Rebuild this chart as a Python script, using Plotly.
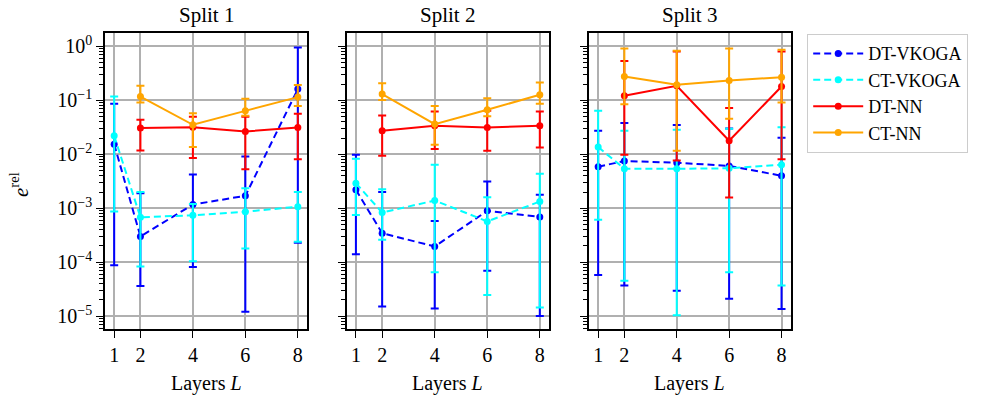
import plotly.graph_objects as go

# Number of layers evaluated
layers = [1, 2, 4, 6, 8]
layers_nn = [2, 4, 6, 8]
split_titles = ["Split 1", "Split 2", "Split 3"]

# Relative errors (median) with lower / upper spread, one row per split
dt_vkoga_val = [[0.0154, 3.0e-4, 1.17e-3, 1.7e-3, 0.162],
                [2.19e-3, 3.45e-4, 1.95e-4, 8.95e-4, 6.9e-4],
                [5.9e-3, 7.5e-3, 7.0e-3, 6.1e-3, 4.0e-3]]
dt_vkoga_lo = [[8.8e-5, 3.6e-5, 8.1e-5, 1.2e-5, 2.3e-4],
               [1.4e-4, 1.5e-5, 1.38e-5, 6.9e-5, 1.0e-5],
               [5.8e-5, 3.7e-5, 2.95e-5, 2.1e-5, 1.35e-5]]
dt_vkoga_hi = [[0.0865, 1.9e-3, 4.2e-3, 9.1e-3, 0.96],
               [9.8e-3, 2.0e-3, 5.8e-4, 3.13e-3, 1.78e-3],
               [0.0273, 0.038, 0.035, 0.030, 0.0202]]

ct_vkoga_val = [[0.022, 6.8e-4, 7.4e-4, 8.6e-4, 1.07e-3],
                [2.92e-3, 8.3e-4, 1.39e-3, 5.7e-4, 1.33e-3],
                [0.0136, 5.4e-3, 5.4e-3, 5.5e-3, 6.4e-3]]
ct_vkoga_lo = [[8.7e-4, 8.3e-5, 1.04e-4, 1.8e-4, 2.4e-4],
               [7.5e-4, 2.6e-4, 6.5e-5, 2.47e-5, 1.44e-5],
               [6.1e-4, 4.5e-5, 1.04e-5, 6.5e-5, 3.7e-5]]
ct_vkoga_hi = [[0.118, 2.0e-3, 1.2e-3, 2.35e-3, 2.0e-3],
               [8.3e-3, 2.26e-3, 6.4e-3, 1.6e-3, 4.35e-3],
               [0.064, 0.0273, 0.0285, 0.0297, 0.0319]]

dt_nn_val = [[0.0306, 0.0319, 0.0265, 0.0315],
             [0.0273, 0.0338, 0.0315, 0.0338],
             [0.122, 0.187, 0.0178, 0.181]]
dt_nn_lo = [[0.0118, 0.0085, 5.3e-3, 8.1e-3],
            [0.0094, 0.0126, 0.0116, 0.0134],
            [9.8e-3, 7.7e-3, 1.58e-3, 8.1e-3]]
dt_nn_hi = [[0.0437, 0.05, 0.05, 0.0564],
            [0.0525, 0.062, 0.064, 0.062],
            [0.54, 0.81, 0.072, 0.81]]

ct_nn_val = [[0.118, 0.0353, 0.064, 0.115],
             [0.131, 0.0363, 0.067, 0.127],
             [0.277, 0.195, 0.234, 0.27]]
ct_nn_lo = [[0.0914, 0.0136, 0.0518, 0.079],
            [0.102, 0.015, 0.051, 0.0865],
            [0.085, 0.0116, 0.0456, 0.0914]]
ct_nn_hi = [[0.187, 0.058, 0.107, 0.192],
            [0.209, 0.079, 0.110, 0.215],
            [0.92, 0.83, 0.92, 0.87]]

y_tick_vals = [1e-5, 1e-4, 1e-3, 1e-2, 1e-1, 1e0]
y_tick_text = ["10<sup>\u22125</sup>", "10<sup>\u22124</sup>", "10<sup>\u22123</sup>",
               "10<sup>\u22122</sup>", "10<sup>\u22121</sup>", "10<sup>0</sup>"]

series = [
    ("DT-VKOGA", "#0000ff", "7px,4px", layers, dt_vkoga_val, dt_vkoga_lo, dt_vkoga_hi),
    ("CT-VKOGA", "#00ffff", "7px,4px", layers, ct_vkoga_val, ct_vkoga_lo, ct_vkoga_hi),
    ("DT-NN", "#ff0000", "solid", layers_nn, dt_nn_val, dt_nn_lo, dt_nn_hi),
    ("CT-NN", "#ffa500", "solid", layers_nn, ct_nn_val, ct_nn_lo, ct_nn_hi),
]

FONT = "Liberation Serif, Times New Roman, serif"
W, H = 990, 402
x_domains = [(105 / W, 307 / W), (346.7 / W, 549 / W), (589 / W, 790.7 / W)]
y_domain = ((H - 329) / H, (H - 33) / H)

fig = go.Figure()

for s in range(3):
    ax = "" if s == 0 else str(s + 1)
    for name, color, dash, xs, val, lo, hi in series:
        v = val[s]
        fig.add_trace(go.Scatter(
            x=xs, y=v, name=name, legendgroup=name, showlegend=(s == 0),
            mode="lines+markers",
            line=dict(color=color, width=2, dash=dash),
            marker=dict(color=color, size=7),
            error_y=dict(type="data", symmetric=False,
                         array=[h - y for h, y in zip(hi[s], v)],
                         arrayminus=[y - l for l, y in zip(lo[s], v)],
                         color=color, thickness=2, width=4),
            xaxis="x" + ax, yaxis="y" + ax,
        ))

minor_vals = [m * 10 ** e for e in range(-6, 1) for m in range(2, 10)]

layout = dict(
    width=W, height=H, margin=dict(l=0, r=0, t=0, b=0),
    paper_bgcolor="white", plot_bgcolor="white",
    font=dict(family=FONT, size=18, color="black"),
    showlegend=True,
    legend=dict(x=807 / W, y=(H - 34) / H, xanchor="left", yanchor="top",
                bgcolor="white", bordercolor="#cccccc", borderwidth=1.2,
                font=dict(family=FONT, size=18), tracegroupgap=0,
                itemwidth=50),
)

annotations = []
for s in range(3):
    key = "" if s == 0 else str(s + 1)
    layout["xaxis" + key] = dict(
        domain=list(x_domains[s]), range=[0.65, 8.35], anchor="y" + key,
        tickmode="array", tickvals=layers, ticktext=[str(v) for v in layers],
        ticks="outside", ticklen=7, tickwidth=1.3, tickcolor="black",
        showline=True, mirror=True, linecolor="black", linewidth=1.6,
        showgrid=True, gridcolor="#b0b0b0", gridwidth=1.5, zeroline=False,
        tickfont=dict(family=FONT, size=20),
    )
    layout["yaxis" + key] = dict(
        domain=list(y_domain), type="log", range=[-5.24, 0.25], anchor="x" + key,
        tickmode="array", tickvals=y_tick_vals, ticktext=y_tick_text,
        showticklabels=(s == 0),
        ticks="outside", ticklen=7, tickwidth=1.3, tickcolor="black",
        minor=dict(tickmode="array", tickvals=minor_vals, ticks="outside",
                   ticklen=4, tickwidth=1, tickcolor="black", showgrid=False),
        showline=True, mirror=True, linecolor="black", linewidth=1.6,
        showgrid=True, gridcolor="#b0b0b0", gridwidth=1.5, zeroline=False,
        tickfont=dict(family=FONT, size=20),
    )
    cx = (x_domains[s][0] + x_domains[s][1]) / 2
    annotations.append(dict(x=cx, y=(H - 15) / H, xref="paper", yref="paper",
                            xanchor="center", yanchor="middle",
                            text=split_titles[s], showarrow=False,
                            font=dict(family=FONT, size=21)))
    annotations.append(dict(x=cx, y=(H - 383) / H, xref="paper", yref="paper",
                            xanchor="center", yanchor="middle",
                            text="Layers <i>L</i>", showarrow=False,
                            font=dict(family=FONT, size=20)))

annotations.append(dict(x=20 / W, y=(H - 185) / H, xref="paper", yref="paper",
                        xanchor="center", yanchor="middle",
                        text="<i>e</i><sup>rel</sup>", showarrow=False,
                        textangle=-90, font=dict(family=FONT, size=21)))
layout["annotations"] = annotations

fig.update_layout(**layout)
fig.write_html("out.html")
